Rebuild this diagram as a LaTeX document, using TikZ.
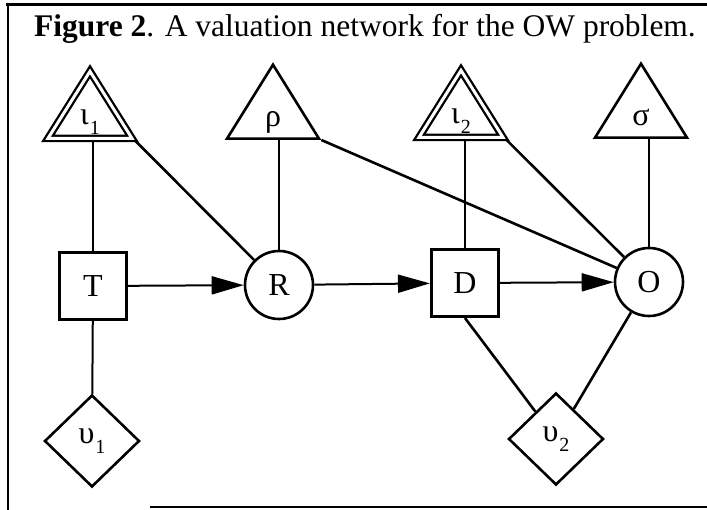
\documentclass[tikz,border=0pt]{standalone}
\usepackage{fontspec}
\setmainfont{Liberation Serif}
\usetikzlibrary{shapes.geometric,arrows.meta,backgrounds}

% lowered index for the Greek valuation names
\newcommand\idx[1]{\kern1pt\raisebox{-10pt}{\fontsize{20}{22}\selectfont #1}}

\begin{document}
\begin{tikzpicture}[x=1pt,y=-1pt,
  every node/.style={font=\fontsize{32}{38}\selectfont},
  shapeline/.style={draw, line width=2.6pt, fill=white},
  chance/.style={shapeline, circle, minimum size=68pt, inner sep=0pt},
  decision/.style={shapeline, rectangle, minimum size=67.5pt, inner sep=0pt},
  valuation/.style={shapeline, isosceles triangle, shape border rotate=90,
    isosceles triangle stretches, minimum width=92pt, minimum height=74pt,
    inner sep=0pt, anchor=lower side},
  indicator/.style={valuation, double, double distance=3pt, line width=2.3pt,
    minimum width=84pt, minimum height=67pt},
  utility/.style={shapeline, diamond, minimum width=95pt, minimum height=92pt,
    inner sep=0pt},
  tag/.style={anchor=base, inner sep=0pt},
  link/.style={line width=2pt},
  slant/.style={line width=2.6pt},
  arc/.style={link, -{Triangle[length=32pt,width=18pt]}},
  framerule/.style={line width=2.2pt},
]
\useasboundingbox (0,0) rectangle (707,510);

% frame
\draw[framerule, line width=3pt] (6,5) -- (707,5);
\draw[framerule] (8,5) -- (8,510);
\draw[framerule] (150,507) -- (707,507);

% caption
\node[anchor=base west, inner sep=0pt, font=\fontsize{31.5}{38}\selectfont]
  (title) at (34,37) {\textbf{Figure 2}. A valuation network for the OW problem.};

% valuations (triangles) and their names
\node[indicator] (i1) at (90,139.5) {};
\node[valuation] (rho) at (273,140) {};
\node[indicator] (i2) at (461,138.5) {};
\node[valuation] (sigma) at (641,139) {};
\node[tag] (i1-name) at ([yshift=15pt]i1.lower side) {ι\idx{1}};
\node[tag] (rho-name) at ([yshift=13pt]rho.lower side) {ρ};
\node[tag] (i2-name) at ([yshift=15pt]i2.lower side) {ι\idx{2}};
\node[tag] (sigma-name) at ([yshift=13pt]sigma.lower side) {σ};

% decisions and chance variables
\node[decision] (T) at (93,286) {T};
\node[chance] (R) at (279,285) {R};
\node[decision] (D) at (465,283) {D};
\node[chance] (O) at (649,282) {O};

% utilities (diamonds)
\node[utility] (v1) at (92,441) {υ\idx{1}};
\node[utility] (v2) at (556,439) {υ\idx{2}};

\begin{scope}[on background layer]
  \draw[link] (T.north) -- (T.north |- i1.lower side);
  \draw[link] (R.north) -- (R.north |- rho.lower side);
  \draw[link] (D.north) -- (D.north |- i2.lower side);
  \draw[link] (O.north) -- (O.north |- sigma.lower side);
  \draw[slant] (i1.right corner) -- (R);
  \draw[slant] (rho.right corner) -- (O);
  \draw[slant] (i2.right corner) -- (O);
  \draw[link] (T) -- (v1);
  \draw[slant] (D.south) -- (v2);
  \draw[slant] (O) -- (v2);
\end{scope}

\draw[arc] (T) -- (R);
\draw[arc] (R) -- (D);
\draw[arc] (D) -- (O);
\end{tikzpicture}
\end{document}
